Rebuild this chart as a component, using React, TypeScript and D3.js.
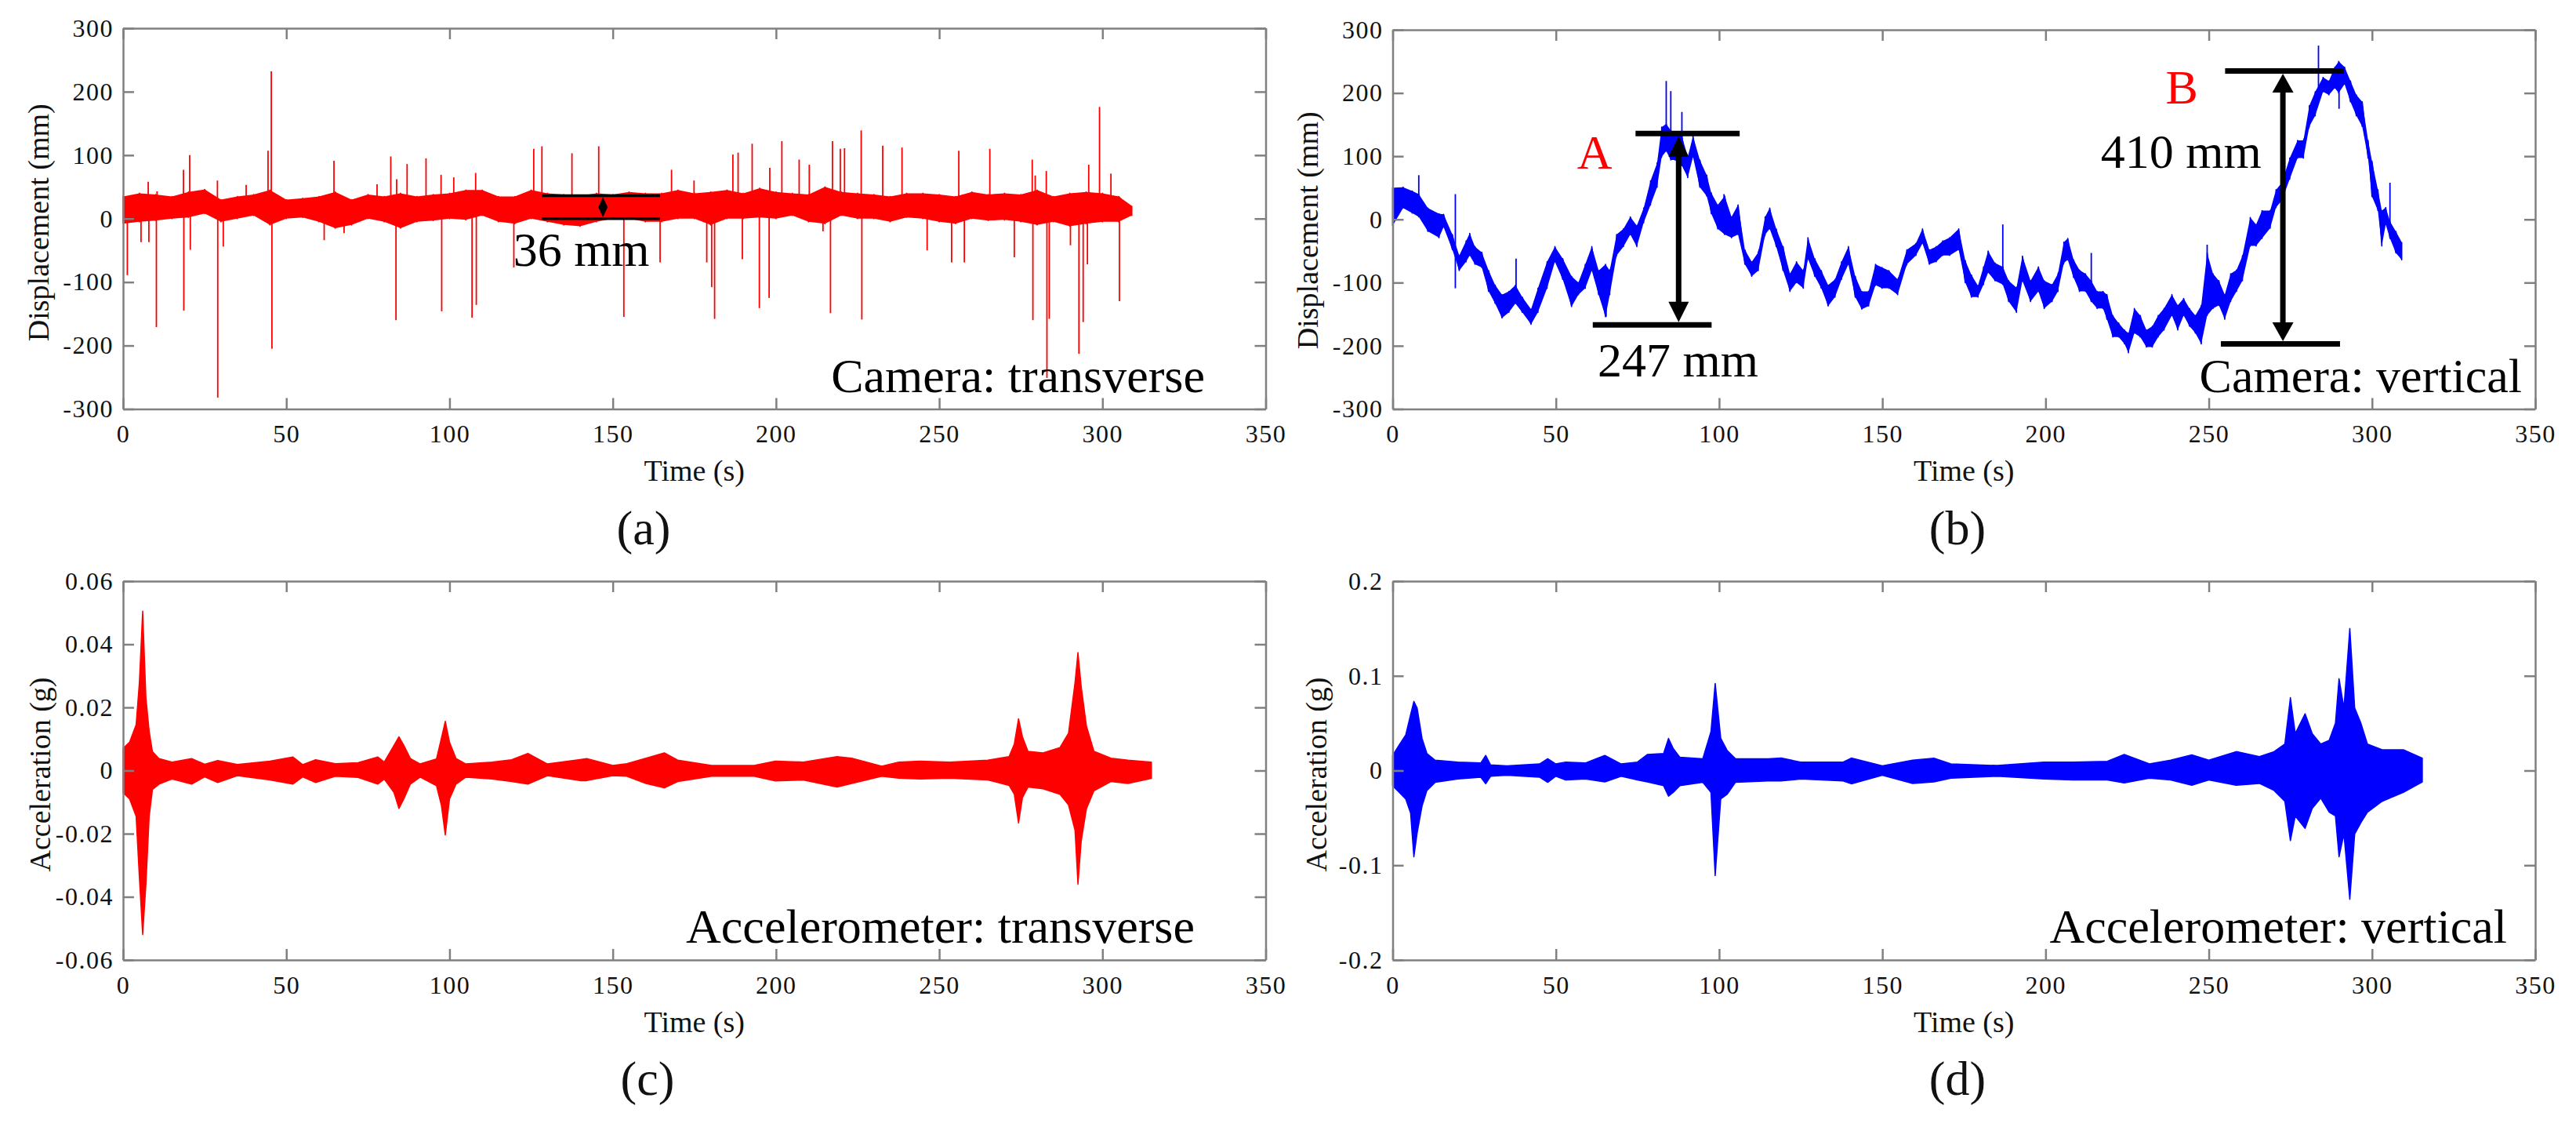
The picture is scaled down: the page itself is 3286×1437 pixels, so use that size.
import { useEffect, useRef } from 'react';
import * as d3 from 'd3';

type Band = [number, number, number];

const FONT = '"Liberation Serif", "Times New Roman", serif';
const RED = '#ff0000';
const BLUE = '#0000ff';
const AXIS = '#808080';
const INK = '#111111';

const TIME_TICKS = [0, 50, 100, 150, 200, 250, 300, 350];
const DISP_TICKS = [-300, -200, -100, 0, 100, 200, 300];
const ACC_T_TICKS = [-0.06, -0.04, -0.02, 0, 0.02, 0.04, 0.06];
const ACC_V_TICKS = [-0.2, -0.1, 0, 0.1, 0.2];

// (a) camera, transverse: noise band [t, lo, hi] in mm, and single-sample spikes [t, peak]
const CAM_T_MEAN = 15;
const CAM_T_BAND: Band[] = [
  [0, -8, 35], [5, -5, 40], [10, -3, 38], [15, 0, 35], [20, 2, 42], [25, 8, 46], [30, -5, 30],
  [35, 0, 35], [40, 5, 38], [45, -10, 45], [50, 0, 30], [55, 2, 32], [60, -5, 35], [65, -15, 42],
  [70, -10, 30], [75, 0, 38], [80, -5, 35], [85, -15, 40], [90, -5, 35], [95, -3, 38], [100, 0, 40],
  [105, -2, 45], [110, 5, 45], [115, -5, 35], [120, -8, 35], [125, 0, 45], [130, -5, 40], [135, -10, 38],
  [140, -12, 36], [145, -5, 40], [150, 0, 38], [155, 0, 42], [160, -5, 40], [165, -5, 40], [170, 0, 45],
  [175, 0, 40], [180, -10, 42], [185, 0, 45], [190, 0, 40], [195, 2, 48], [200, 0, 42], [205, 5, 40],
  [210, -5, 38], [215, -8, 50], [220, 5, 42], [225, 0, 40], [230, 0, 38], [235, -5, 35], [240, 2, 40],
  [245, 0, 40], [250, -5, 38], [255, -8, 35], [260, 0, 42], [265, -3, 38], [270, -2, 40], [275, -5, 38],
  [280, -10, 45], [285, -5, 35], [290, -12, 40], [295, -8, 42], [300, -5, 40], [305, -5, 35], [309, 5, 20],
];
const CAM_T_SPIKES: [number, number][] = [
  [1.3, -89], [5.5, -37], [7.7, 58], [7.9, -37], [10.2, -171], [10.4, 43], [18.5, 77], [18.6, -145],
  [20.4, 100], [20.6, -49], [28.9, 60], [29.0, -282], [30.7, -44], [37.7, 53], [44.4, 107], [45.4, 232],
  [45.6, -205], [61.6, -34], [64.6, 91], [67.7, -23], [77.8, 54], [82, 98], [83.6, -160], [83.8, 62],
  [87, 86], [92.8, 95], [97.4, 69], [97.6, -146], [101.3, 65], [106.9, -156], [108, 72], [108.2, -136],
  [119.7, -77], [125.8, 110], [128.3, 114], [137.5, 103], [145.7, 114], [153.4, -155], [164.5, -69],
  [168, 77], [174.9, 60], [178.8, -69], [180.3, -108], [181.2, -158], [186.8, 101], [188.4, 104],
  [189.7, -64], [192.7, 118], [194.9, -141], [197.9, -125], [198.1, 80], [201.8, 122], [207.1, 93],
  [210.2, 85], [214.4, -20], [216.7, -149], [217.3, 122], [219.7, 110], [221, 111], [226.1, 139],
  [226.3, -159], [232.7, 115], [238.6, 112], [246.3, -50], [253.8, -69], [256, 107], [257.7, -69],
  [265.5, 110], [273, -61], [278.5, 93], [278.7, -160], [279.4, 68], [282.8, 75], [283, -251],
  [283.7, -158], [290.2, -42], [292.8, -213], [294.1, -163], [295.4, -72], [295.8, 85], [299.1, 176],
  [302.6, 71], [305.2, -130],
];

// (b) camera, vertical: [t, lo, hi] in mm, spikes [t, from, to]
const CAM_V_BAND: Band[] = [
  [0, -10, 50], [3.2, 18, 51], [6, 10, 45], [8, 4, 40], [10.8, -19, 18], [14.2, -29, 9], [15.6, -12, 8],
  [18.3, -48, -24], [20.4, -81, -57], [22.5, -67, -34], [23.6, -57, -22], [25.2, -71, -43], [27.3, -76, -52],
  [29.4, -114, -81], [31.4, -133, -104], [33.5, -156, -119], [35.6, -147, -114], [37.6, -133, -104],
  [39.7, -147, -123], [42.4, -166, -142], [44.5, -147, -109], [47.3, -109, -67], [49.7, -67, -43],
  [52.1, -95, -62], [54.8, -138, -90], [56.9, -119, -100], [59, -109, -71], [61, -81, -43], [63.1, -119, -81],
  [65.2, -154, -71], [66.5, -119, -81], [68.6, -57, -24], [70.7, -43, -15], [72.8, -24, 4], [74.8, -43, -10],
  [76.9, -5, 18], [79, 23, 61], [81, 51, 89], [82.4, 99, 146], [83.8, 108, 151], [85.2, 94, 141],
  [86.5, 94, 137], [88.6, 85, 132], [90.4, 66, 99], [92, 99, 132], [94.1, 51, 94], [96.2, 37, 70],
  [97.6, 9, 42], [99.6, -15, 23], [101.7, -24, 37], [103.8, -29, 4], [105.8, -24, 23], [107.9, -71, -48],
  [110, -90, -67], [112, -81, -52], [114.1, -24, 4], [115.5, -15, 18], [117.5, -43, -15], [119.6, -81, -43],
  [121.7, -114, -86], [123.7, -100, -67], [125.8, -109, -81], [127.2, -62, -29], [129.3, -90, -62],
  [131.3, -109, -81], [133.4, -137, -104], [135.5, -123, -95], [137.5, -95, -67], [139.6, -71, -43],
  [141.7, -123, -90], [143.7, -142, -114], [145.8, -137, -114], [147.9, -104, -71], [149.9, -109, -76],
  [152, -109, -81], [154.7, -119, -95], [157.5, -71, -48], [160.3, -57, -38], [162.3, -38, -15],
  [164.4, -71, -48], [166.5, -67, -43], [168.5, -57, -34], [170.6, -57, -29], [173.4, -48, -15],
  [175.4, -100, -65], [177.3, -123, -88], [179.3, -123, -105], [181, -103, -75], [182.4, -84, -50],
  [184.5, -97, -69], [186.9, -103, -75], [188.7, -130, -97], [191.1, -147, -108], [192.9, -97, -58],
  [195.4, -130, -97], [197.8, -114, -75], [199.6, -141, -97], [202, -130, -103], [203.8, -114, -86],
  [205.6, -69, -36], [206.8, -64, -30], [208.6, -92, -64], [210.4, -114, -80], [212.2, -114, -86],
  [214, -130, -97], [215.8, -141, -114], [217.6, -141, -114], [218.8, -158, -119], [220.6, -186, -152],
  [222.4, -186, -164], [224.2, -197, -175], [225.4, -211, -180], [227.2, -180, -141], [229, -186, -152],
  [230.9, -202, -175], [232.7, -202, -169], [234.5, -186, -152], [236.3, -175, -141], [238.7, -152, -119],
  [240.5, -175, -136], [242.3, -152, -125], [244.1, -169, -141], [245.9, -180, -152], [247.7, -197, -136],
  [249.5, -152, -53], [251.3, -141, -86], [253.1, -136, -97], [254.9, -158, -119], [256.7, -130, -86],
  [258.5, -114, -80], [260.3, -97, -58], [262.7, -42, 3], [264.5, -42, -8], [266.3, -30, 14],
  [268.8, -14, 14], [270.6, 19, 47], [272.4, 30, 58], [274.8, 64, 97], [277.2, 97, 125], [279, 97, 125],
  [280.8, 147, 180], [282.6, 164, 202], [285, 202, 225], [286.8, 197, 219], [288.6, 208, 241],
  [289.8, 200, 250], [291.6, 214, 241], [293.4, 186, 219], [295.2, 164, 197], [297, 147, 186],
  [298.8, 97, 125], [300, 36, 92], [301.8, 14, 47], [303, -42, 14], [304.2, -8, 19], [305.5, -30, -3],
  [307.3, -53, -19], [309.1, -64, -36],
];
const CAM_V_SPIKES: Band[] = [
  [8, 30, 70], [19.2, 40, -109], [37.8, -110, -62], [65.4, -110, -154], [83.8, 140, 219], [85.2, 130, 203],
  [88.6, 120, 170], [101.5, 0, 40], [186.9, -80, -8], [214, -100, -53], [249.5, -150, -40],
  [283.6, 200, 275], [289.9, 230, 175], [305.5, -10, 58],
];

// (c) accelerometer, transverse: envelope [t, lo, hi] in g
const ACC_T_ENV: Band[] = [
  [0, -0.007, 0.007], [2, -0.009, 0.009], [4, -0.0145, 0.0145], [5, -0.034, 0.028], [6, -0.052, 0.0505],
  [7, -0.036, 0.023], [8, -0.0145, 0.0124], [9, -0.006, 0.006], [11, -0.0043, 0.0038], [15, -0.0027, 0.0027],
  [21, -0.0043, 0.0038], [25, -0.002, 0.002], [29, -0.0038, 0.0032], [35, -0.0016, 0.0019], [45, -0.003, 0.003],
  [52, -0.0043, 0.0043], [55, -0.002, 0.0019], [59, -0.0038, 0.0034], [65, -0.0018, 0.0022], [72, -0.0022, 0.0025],
  [78, -0.0043, 0.0043], [80, -0.0027, 0.0027], [83, -0.007, 0.008], [84.5, -0.012, 0.0107], [86, -0.009, 0.008],
  [88, -0.0043, 0.0038], [91, -0.0021, 0.0021], [96, -0.0048, 0.0037], [97.5, -0.011, 0.0102],
  [98.7, -0.0204, 0.0156], [100, -0.009, 0.009], [102, -0.0043, 0.0038], [105, -0.0021, 0.0021],
  [113, -0.0027, 0.0027], [119, -0.0035, 0.0034], [124, -0.0043, 0.0054], [130, -0.0016, 0.0021],
  [140, -0.0032, 0.0035], [142, -0.0032, 0.0038], [150, -0.0016, 0.0016], [154.3, -0.0018, 0.0022],
  [160.2, -0.0041, 0.0039], [165.8, -0.0055, 0.0056], [169.9, -0.0035, 0.0033], [180.3, -0.0018, 0.0016],
  [193.3, -0.0018, 0.0016], [199.8, -0.0033, 0.003], [208.3, -0.003, 0.0027], [218.7, -0.0052, 0.0044],
  [223.2, -0.0041, 0.0039], [232.4, -0.0018, 0.0014], [237.6, -0.0024, 0.0027], [244.1, -0.0027, 0.003],
  [253.2, -0.0024, 0.0027], [264.9, -0.003, 0.0033], [271.4, -0.0047, 0.0044], [273, -0.0075, 0.0084],
  [274.3, -0.0166, 0.0164], [275.5, -0.0086, 0.0107], [277.2, -0.0052, 0.0061], [281.8, -0.0058, 0.0056],
  [287, -0.0075, 0.0073], [289.6, -0.0109, 0.0118], [291.6, -0.0189, 0.0278], [292.5, -0.036, 0.0374],
  [293.5, -0.0223, 0.0266], [295.1, -0.0121, 0.0141], [297.4, -0.0064, 0.0061], [302.6, -0.0035, 0.0039],
  [307.8, -0.0041, 0.0033], [315, -0.0025, 0.0027],
];

// (d) accelerometer, vertical: envelope [t, lo, hi] in g
const ACC_V_ENV: Band[] = [
  [0, -0.016, 0.016], [2, -0.023, 0.027], [4, -0.03, 0.0375], [5.5, -0.045, 0.059], [6.5, -0.091, 0.073],
  [7.5, -0.066, 0.066], [9, -0.0375, 0.034], [10.5, -0.021, 0.018], [13, -0.0125, 0.011], [20, -0.009, 0.009],
  [27, -0.007, 0.008], [28.5, -0.014, 0.016], [30, -0.006, 0.006], [35, -0.005, 0.005], [45, -0.007, 0.007],
  [47.5, -0.0125, 0.0125], [50, -0.006, 0.007], [53, -0.01, 0.009], [59, -0.009, 0.008], [65, -0.012, 0.016],
  [70, -0.006, 0.007], [75, -0.01, 0.009], [78, -0.012, 0.017], [83, -0.016, 0.018], [84.5, -0.027, 0.034],
  [86, -0.023, 0.023], [88, -0.016, 0.014], [95, -0.0125, 0.0125], [97.5, -0.023, 0.041], [98.8, -0.111, 0.092],
  [100.5, -0.03, 0.034], [102.5, -0.025, 0.021], [105, -0.0125, 0.0125], [115, -0.011, 0.0125],
  [119, -0.011, 0.0132], [125, -0.009, 0.009], [138, -0.011, 0.009], [140.5, -0.014, 0.0132], [150, -0.005, 0.005],
  [159.3, -0.0136, 0.011], [165.8, -0.012, 0.013], [171, -0.008, 0.007], [185.2, -0.006, 0.0053],
  [199.5, -0.009, 0.009], [208.5, -0.01, 0.009], [218.9, -0.01, 0.0098], [224.1, -0.013, 0.017],
  [231.8, -0.008, 0.007], [238.3, -0.01, 0.011], [244.8, -0.0155, 0.0166], [250, -0.01, 0.011],
  [258.4, -0.0155, 0.02], [265.5, -0.0136, 0.0147], [270, -0.021, 0.02], [273.3, -0.0325, 0.028],
  [275, -0.074, 0.077], [276.5, -0.048, 0.039], [279.5, -0.061, 0.06], [281.7, -0.04, 0.039],
  [284.3, -0.029, 0.028], [286.9, -0.044, 0.032], [288.8, -0.048, 0.05], [289.9, -0.091, 0.097],
  [291.4, -0.067, 0.066], [293.2, -0.136, 0.15], [294.7, -0.067, 0.066], [296.6, -0.055, 0.05],
  [298.6, -0.044, 0.028], [303.1, -0.0325, 0.022], [309.6, -0.023, 0.022], [315.4, -0.012, 0.013],
];

// peak-to-peak markers: bracket values (mm), bracket time spans (s), arrow time
const SPAN_36 = { hi: 36, lo: 0, hiX: [128.3, 164.5], loX: [128.3, 164.5], arrowX: 147 };
const SPAN_247 = { hi: 136, lo: -167, hiX: [74.4, 106.3], loX: [61.3, 97.7], arrowX: 87.6 };
const SPAN_410 = { hi: 235, lo: -197, hiX: [255, 291.4], loX: [253.7, 290.2], arrowX: 272.7 };

const PANELS = [
  { id: 'a', left: 157, right: 1614.5, top: 36, bottom: 521.5, yDomain: [-300, 300], yTicks: DISP_TICKS,
    yLabel: 'Displacement (mm)', yLabelX: 49, yLabelDy: 5, tag: '(a)', tagX: 821, title: 'Camera: transverse', titleEnd: 1537 },
  { id: 'b', left: 1776.5, right: 3234, top: 38, bottom: 521.5, yDomain: [-300, 300], yTicks: DISP_TICKS,
    yLabel: 'Displacement (mm)', yLabelX: 1668, yLabelDy: 14, tag: '(b)', tagX: 2497, title: 'Camera: vertical', titleEnd: 3217 },
  { id: 'c', left: 157, right: 1614.5, top: 741, bottom: 1224, yDomain: [-0.06, 0.06], yTicks: ACC_T_TICKS,
    yLabel: 'Acceleration (g)', yLabelX: 51, yLabelDy: 5, tag: '(c)', tagX: 826, title: 'Accelerometer: transverse', titleEnd: 1524 },
  { id: 'd', left: 1776.5, right: 3234, top: 741, bottom: 1224, yDomain: [-0.2, 0.2], yTicks: ACC_V_TICKS,
    yLabel: 'Acceleration (g)', yLabelX: 1679, yLabelDy: 5, tag: '(d)', tagX: 2497, title: 'Accelerometer: vertical', titleEnd: 3198 },
];

function styleAxis(sel: any, labels: boolean) {
  sel.attr('font-family', FONT).attr('font-size', 32);
  sel.select('.domain').attr('stroke', AXIS).attr('stroke-width', 2.5);
  sel.selectAll('.tick line').attr('stroke', AXIS).attr('stroke-width', 2.5);
  if (labels) sel.selectAll('.tick text').attr('fill', INK).attr('letter-spacing', '1.5px');
}

function drawArrow(g: any, px: number, yTop: number, yBot: number, shaft: number, headW: number, headL: number) {
  g.append('line').attr('x1', px).attr('x2', px).attr('y1', yTop + headL - 2).attr('y2', yBot - headL + 2)
    .attr('stroke', '#000').attr('stroke-width', shaft);
  g.append('path').attr('d', `M${px},${yTop}L${px - headW / 2},${yTop + headL}L${px + headW / 2},${yTop + headL}Z`).attr('fill', '#000');
  g.append('path').attr('d', `M${px},${yBot}L${px - headW / 2},${yBot - headL}L${px + headW / 2},${yBot - headL}Z`).attr('fill', '#000');
}

function drawSpan(g: any, x: any, y: any, s: any, lineW: number, shaft: number, headW: number, headL: number) {
  g.append('line').attr('x1', x(s.hiX[0])).attr('x2', x(s.hiX[1])).attr('y1', y(s.hi)).attr('y2', y(s.hi))
    .attr('stroke', '#000').attr('stroke-width', lineW);
  g.append('line').attr('x1', x(s.loX[0])).attr('x2', x(s.loX[1])).attr('y1', y(s.lo)).attr('y2', y(s.lo))
    .attr('stroke', '#000').attr('stroke-width', lineW);
  drawArrow(g, x(s.arrowX), y(s.hi) + lineW / 2, y(s.lo) - lineW / 2, shaft, headW, headL);
}

function drawText(g: any, px: number, py: number, text: string, size: number, color = '#000', anchor = 'start') {
  g.append('text').attr('x', px).attr('y', py).attr('font-family', FONT).attr('font-size', size)
    .attr('fill', color).attr('text-anchor', anchor).text(text);
}

export default function App() {
  const svgRef = useRef<SVGSVGElement>(null);

  useEffect(() => {
    if (!svgRef.current) return;
    const svg = d3.select(svgRef.current);
    svg.selectAll('*').remove();

    PANELS.forEach(p => {
      const x = d3.scaleLinear().domain([0, 350]).range([p.left, p.right]);
      const y = d3.scaleLinear().domain(p.yDomain).range([p.bottom, p.top]);
      const g = svg.append('g');

      const band = d3.area<Band>().x(d => x(d[0])).y0(d => y(d[1])).y1(d => y(d[2]));
      const line = d3.line<[number, number]>().x(d => x(d[0])).y(d => y(d[1]));

      if (p.id === 'a' || p.id === 'b') {
        const color = p.id === 'a' ? RED : BLUE;
        const data = p.id === 'a' ? CAM_T_BAND : CAM_V_BAND;
        g.append('path').datum(data).attr('d', band).attr('fill', color);
        const zig = data.flatMap(d => [[d[0], d[1]], [d[0], d[2]]] as [number, number][]);
        g.append('path').datum(zig).attr('d', line).attr('fill', 'none')
          .attr('stroke', color).attr('stroke-width', 1.6).attr('stroke-linejoin', 'round');
        const spikes: Band[] = p.id === 'a'
          ? CAM_T_SPIKES.map(s => [s[0], CAM_T_MEAN, s[1]] as Band)
          : CAM_V_SPIKES;
        g.selectAll('line.spike').data(spikes).join('line').attr('class', 'spike')
          .attr('x1', d => x(d[0])).attr('x2', d => x(d[0]))
          .attr('y1', d => y(d[1])).attr('y2', d => y(d[2]))
          .attr('stroke', color).attr('stroke-width', 1.8);
      } else {
        const color = p.id === 'c' ? RED : BLUE;
        const data = p.id === 'c' ? ACC_T_ENV : ACC_V_ENV;
        g.append('path').datum(data).attr('d', band).attr('fill', color)
          .attr('stroke', color).attr('stroke-width', 1.5).attr('stroke-linejoin', 'round');
      }

      // axes, ticks inward on all four sides
      g.append('g').attr('transform', `translate(0,${p.bottom})`)
        .call(d3.axisBottom(x).tickValues(TIME_TICKS).tickSizeInner(-14).tickSizeOuter(0).tickPadding(20).tickFormat(d => String(d)))
        .call((s: any) => styleAxis(s, true));
      g.append('g').attr('transform', `translate(0,${p.top})`)
        .call(d3.axisTop(x).tickValues(TIME_TICKS).tickSizeInner(-14).tickSizeOuter(0).tickFormat(() => ''))
        .call((s: any) => styleAxis(s, false));
      g.append('g').attr('transform', `translate(${p.left},0)`)
        .call(d3.axisLeft(y).tickValues(p.yTicks).tickSizeInner(-14).tickSizeOuter(0).tickPadding(12).tickFormat(d => String(d)))
        .call((s: any) => styleAxis(s, true));
      g.append('g').attr('transform', `translate(${p.right},0)`)
        .call(d3.axisRight(y).tickValues(p.yTicks).tickSizeInner(-14).tickSizeOuter(0).tickFormat(() => ''))
        .call((s: any) => styleAxis(s, false));

      // axis titles and panel tag
      const cx = (p.left + p.right) / 2;
      const cy = (p.top + p.bottom) / 2 + p.yLabelDy;
      g.append('text').attr('transform', `translate(${p.yLabelX},${cy}) rotate(-90)`)
        .attr('text-anchor', 'middle').attr('dominant-baseline', 'central')
        .attr('font-family', FONT).attr('font-size', 38).attr('fill', INK).text(p.yLabel);
      g.append('text').attr('x', cx).attr('y', p.bottom + 78.5)
        .attr('text-anchor', 'middle').attr('dominant-baseline', 'central')
        .attr('font-family', FONT).attr('font-size', 38).attr('fill', INK).text('Time (s)');
      g.append('text').attr('x', p.tagX).attr('y', p.bottom + 151)
        .attr('text-anchor', 'middle').attr('dominant-baseline', 'central')
        .attr('font-family', FONT).attr('font-size', 62).attr('fill', INK).text(p.tag);

      drawText(g, p.titleEnd, p.bottom - 22, p.title, 62, '#000', 'end');

      if (p.id === 'a') {
        drawSpan(g, x, y, SPAN_36, 3.5, 2.5, 12, 13);
        drawText(g, x(119.5), y(-74.7), '36 mm', 62);
      }
      if (p.id === 'b') {
        drawSpan(g, x, y, SPAN_247, 7, 7, 26, 26);
        drawSpan(g, x, y, SPAN_410, 7, 7, 27, 24);
        drawText(g, x(56.5), y(80), 'A', 62, RED);
        drawText(g, x(62.8), y(-248), '247 mm', 62);
        drawText(g, x(236.8), y(183), 'B', 62, RED);
        drawText(g, x(216.9), y(81), '410 mm', 62);
      }
    });
  }, []);

  return (
    <svg ref={svgRef} width={3286} height={1437}
      style={{ position: 'absolute', left: 0, top: 0, background: '#fff' }} />
  );
}
